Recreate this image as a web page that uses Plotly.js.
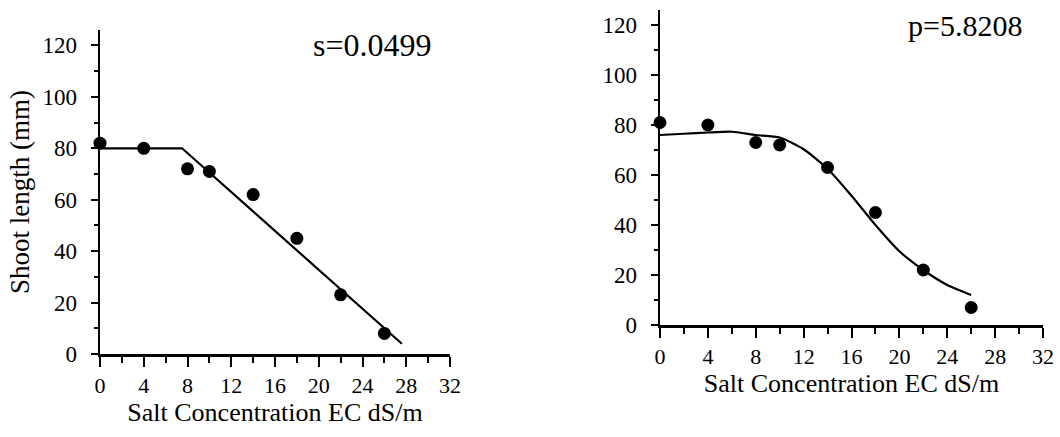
<!DOCTYPE html>
<html>
<head>
<meta charset="utf-8">
<script src="https://cdn.plot.ly/plotly-3.0.1.min.js"></script>
<style>html,body{margin:0;padding:0;background:#fff;}#chart{width:1060px;height:437px;}</style>
</head>
<body>
<div id="chart"></div>
<script>
// Salt concentration (EC dS/m) of each measurement
const salinity = [0, 4, 8, 10, 14, 18, 22, 26];
const shootLeft = [82, 80, 72, 71, 62, 45, 23, 8];
const shootRight = [81, 80, 73, 72, 63, 45, 22, 7];

// Left panel fitted piecewise-linear model
const fitLeftX = [0, 7.5, 27.6];
const fitLeftY = [80, 80, 4];
// Right panel fitted sigmoid curve (traced)
const fitRightX = [0, 2, 4, 6, 8, 10, 12, 14, 16, 18, 20, 22, 24, 26];
const fitRightY = [76, 76.5, 77, 77.3, 76, 75, 70.3, 62.5, 51.7, 40, 29.5, 22, 16, 12];

const panelLabels = ['s=0.0499', 'p=5.8208'];
const xTitle = 'Salt Concentration EC dS/m';
const yTitle = 'Shoot length (mm)';

const FONT = 'Liberation Serif, Times New Roman, serif';
const BLACK = '#000';

const markerStyle = {color: BLACK, size: 13};

const traces = [
  {x: fitLeftX, y: fitLeftY, mode: 'lines', line: {color: BLACK, width: 2.2}, xaxis: 'x', yaxis: 'y'},
  {x: salinity, y: shootLeft, mode: 'markers', marker: markerStyle, xaxis: 'x', yaxis: 'y', cliponaxis: false},
  {x: fitRightX, y: fitRightY, mode: 'lines', line: {color: BLACK, width: 2.2, shape: 'spline', smoothing: 0.6}, xaxis: 'x2', yaxis: 'y2'},
  {x: salinity, y: shootRight, mode: 'markers', marker: markerStyle, xaxis: 'x2', yaxis: 'y2', cliponaxis: false}
];

function xAxis(domain, anchor) {
  return {
    domain: domain, anchor: anchor, range: [0, 32],
    tick0: 0, dtick: 4, ticks: 'outside', ticklen: 10, tickwidth: 2, tickcolor: BLACK,
    minor: {ticks: 'outside', dtick: 2, ticklen: 6, tickwidth: 2, tickcolor: BLACK},
    showline: true, linewidth: 2.5, linecolor: BLACK,
    showgrid: false, zeroline: false,
    ticklabelstandoff: 0,
    tickfont: {family: FONT, size: 22, color: BLACK},
    title: {text: xTitle, font: {family: FONT, size: 26, color: BLACK}, standoff: 4}
  };
}
function yAxis(domain, anchor, withTitle) {
  const a = {
    domain: domain, anchor: anchor, range: [0, 126],
    tick0: 0, dtick: 20, ticks: 'outside', ticklen: 7, tickwidth: 2, tickcolor: BLACK,
    minor: {ticks: 'outside', dtick: 10, ticklen: 4, tickwidth: 2, tickcolor: BLACK},
    showline: true, linewidth: 2.5, linecolor: BLACK,
    showgrid: false, zeroline: false,
    ticklabelstandoff: 9,
    tickfont: {family: FONT, size: 23, color: BLACK}
  };
  if (withTitle) a.title = {text: yTitle, font: {family: FONT, size: 27, color: BLACK}, standoff: 5};
  return a;
}

const layout = {
  width: 1060, height: 437,
  margin: {l: 0, r: 0, t: 0, b: 0},
  paper_bgcolor: '#fff', plot_bgcolor: 'rgba(0,0,0,0)',
  showlegend: false,
  xaxis: xAxis([100/1060, 450/1060], 'y'),
  yaxis: yAxis([(437-354)/437, (437-30)/437], 'x', true),
  xaxis2: xAxis([660/1060, 1043/1060], 'y2'),
  yaxis2: yAxis([(437-325)/437, (437-10)/437], 'x2', false),
  annotations: [
    {xref: 'x', yref: 'y', x: 24.9, y: 120, text: panelLabels[0], showarrow: false,
     font: {family: FONT, size: 32, color: BLACK}},
    {xref: 'x2', yref: 'y2', x: 25.5, y: 120, text: panelLabels[1], showarrow: false,
     font: {family: FONT, size: 30, color: BLACK}}
  ]
};

Plotly.newPlot('chart', traces, layout, {staticPlot: true, displayModeBar: false});
</script>
</body>
</html>
